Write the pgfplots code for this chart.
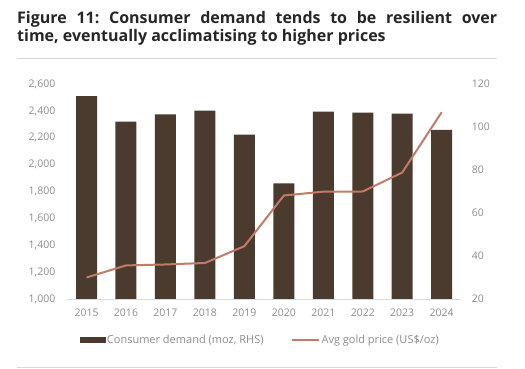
\documentclass[border=0pt]{standalone}
\usepackage{fontspec}
\setmainfont{Open Sans}
\usepackage{pgfplots}
\pgfplotsset{compat=1.18}
\definecolor{barcol}{HTML}{4B3B2E}
\definecolor{linecol}{HTML}{C27B64}
\definecolor{tickgray}{HTML}{8C8C8C}
\definecolor{rulegray}{HTML}{D8D8D8}
\definecolor{axisgray}{HTML}{D3DAE2}
\frenchspacing
\begin{document}
\begin{tikzpicture}
\path[use as bounding box] (0,0) rectangle (525pt,369pt);
\node[anchor=north west, inner sep=0pt, align=left,
      font=\bfseries\fontsize{16}{18.5}\selectfont, text=black!85] at (17pt,358pt)
  {\makebox[480pt][s]{Figure 11: Consumer demand tends to be resilient over}\\
   time, eventually acclimatising to higher prices};
\draw[rulegray, line width=0.7pt] (17pt,311pt) -- (497pt,311pt);
\draw[rulegray, line width=0.7pt] (17pt,1.5pt) -- (497pt,1.5pt);

\pgfplotsset{
  common/.style={
    at={(66.8pt,70pt)}, anchor=south west,
    width=394.6pt, height=215pt, scale only axis,
    xmin=-0.5, xmax=9.5,
    major tick length=0pt,
    tick label style={font=\fontsize{10.5}{12}\selectfont, text=tickgray},
    /pgf/number format/assume math mode=true,
  }
}

\begin{axis}[common,
  ymin=20, ymax=120, ytick={20,40,...,120},
  axis y line*=right, y axis line style={draw=none},
  axis x line*=bottom, x axis line style={draw=axisgray, line width=0.8pt, -},
  xtick={0,...,9},
  xticklabels={2015,2016,2017,2018,2019,2020,2021,2022,2023,2024},
  xticklabel style={yshift=-6pt},
  yticklabel style={xshift=7pt},
]
\addplot[ybar, bar width=21pt, bar shift=0pt, fill=barcol, draw=none] coordinates {
  (0,114.4) (1,102.5) (2,105.9) (3,107.6) (4,96.4)
  (5,73.8) (6,107.1) (7,106.7) (8,106.2) (9,98.7)};
\end{axis}

\begin{axis}[common,
  ymin=1000, ymax=2600, ytick={1000,1200,...,2600},
  axis y line*=left, y axis line style={draw=none},
  axis x line=none,
  yticklabel style={/pgf/number format/.cd, 1000 sep={,}, /tikz/.cd, xshift=-8pt},
  legend columns=2,
  legend style={at={(0.49,-0.19)}, anchor=center, draw=none, fill=none,
    font=\fontsize{11}{13}\selectfont, text=tickgray,
    /tikz/every even column/.append style={column sep=25pt}},
]
\addlegendimage{legend image code/.code={\fill[barcol] (0pt,-2.6pt) rectangle (25pt,2.6pt);}}
\addlegendentry{Consumer demand (moz, RHS)}
\addplot[linecol, line width=2pt, legend image code/.code={\draw[linecol, line width=2pt] (0pt,0pt) -- (27pt,0pt);}] coordinates {
  (0,1160) (1,1250) (2,1257) (3,1268) (4,1393)
  (5,1770) (6,1799) (7,1800) (8,1941) (9,2390)};
\addlegendentry{Avg gold price (US\$/oz)}
\end{axis}
\end{tikzpicture}
\end{document}
